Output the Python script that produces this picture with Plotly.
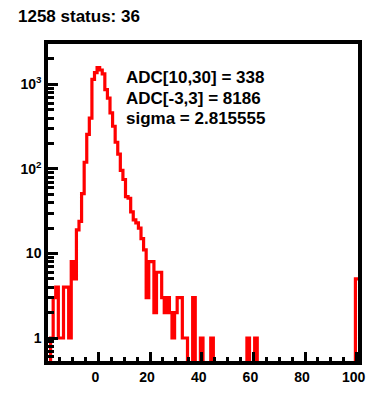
import numpy as np
import plotly.graph_objects as go

# ---- data ----
bin_centers = list(range(-19, 101))  # ADC bins, width 1
counts = [
    0, 1, 3, 4, 1, 1, 4, 4, 1, 8,            # -19 .. -10
    5, 19, 24, 51, 120, 257, 400, 1150, 1380,  # -9 .. -1
    1580, 1480, 1330, 866, 690, 460, 320, 207, 150, 96,  # 0 .. 9
    75, 47, 45, 31, 25, 23, 20, 15, 11, 3,   # 10 .. 19
    8, 8, 2, 6, 6, 3, 2, 3, 2, 1,            # 20 .. 29
    2, 3, 3, 1, 1, 0, 0, 3, 0, 0,            # 30 .. 39
    1, 0, 0, 0, 1, 0, 0, 0, 0, 0,            # 40 .. 49
    0, 0, 0, 0, 0, 0, 0, 0, 1, 0,            # 50 .. 59
    0, 1, 0, 0, 0, 0, 0, 0, 0, 0,            # 60 .. 69
    0, 0, 0, 0, 0, 0, 0, 0, 0, 0,            # 70 .. 79
    0, 0, 0, 0, 0, 0, 0, 0, 0, 0,            # 80 .. 89
    0, 0, 0, 0, 0, 0, 0, 0, 0, 0,            # 90 .. 99
    5,                                       # 100
]
x_ticks = [0, 20, 40, 60, 80, 100]
y_ticks = [1, 10, 100, 1000]
y_ticktext = ["1", "10", "10<sup>2</sup>", "10<sup>3</sup>"]
title_text = "1258 status: 36"
stats_lines = ["ADC[10,30] = 338", "ADC[-3,3] = 8186", "sigma = 2.815555"]

# ---- geometry (page pixels; the page body has an 8px margin) ----
OFF = 8
W, H = 386 - OFF, 397 - OFF
L, R, T, B = 41 - OFF, 358.5 - OFF, 43.5 - OFF, 365 - OFF
PW, PH = R - L, B - T

def xp(px):
    return (px - OFF - L) / PW

def yp(py):
    return 1 - (py - OFF - T) / PH

c = np.array(bin_centers, dtype=float)
v = np.array(counts, dtype=float)
edges = np.append(c - 0.5, c[-1] + 0.5)
ystep = np.append(v, v[-1])
ystep = np.where(ystep > 0, ystep, 0.05)  # empty bins drop below the axis

fig = go.Figure(go.Scatter(
    x=edges, y=ystep, mode="lines",
    line=dict(color="#ff0000", width=3.2, shape="hv"),
    hoverinfo="skip",
))

font_fam = "Liberation Sans, Arial, sans-serif"
x_minor = [t for t in range(-15, 101, 5) if t % 20 != 0]
y_minor = [k * 10.0 ** d for d in range(-1, 4) for k in range(2, 10)
           if 0.5 < k * 10.0 ** d < 3100]

fig.update_layout(
    width=W, height=H,
    margin=dict(l=L, r=W - R, t=T, b=H - B, pad=0),
    paper_bgcolor="white", plot_bgcolor="white",
    showlegend=False,
    xaxis=dict(
        range=[-19.5, 100.5], showgrid=False, zeroline=False,
        showline=True, mirror=True, linecolor="black", linewidth=3.5,
        ticks="inside", ticklen=9, tickwidth=2.5, tickcolor="black",
        tickmode="array", tickvals=x_ticks,
        tickfont=dict(family=font_fam, size=14, color="black", weight="bold"),
        ticklabelshift=-3,
        minor=dict(ticks="inside", ticklen=4.5, tickwidth=2.5,
                   tickcolor="black", tickmode="array", tickvals=x_minor),
    ),
    yaxis=dict(
        type="log", range=[-0.272, 3.478], showgrid=False, zeroline=False,
        showline=True, mirror=True, linecolor="black", linewidth=3.5,
        ticks="inside", ticklen=10, tickwidth=2.5, tickcolor="black",
        tickmode="array", tickvals=y_ticks, ticktext=y_ticktext,
        tickfont=dict(family=font_fam, size=14, color="black", weight="bold"),
        minor=dict(ticks="inside", ticklen=6, tickwidth=2.5,
                   tickcolor="black", tickmode="array", tickvals=y_minor),
    ),
)

fig.add_annotation(
    text=title_text, xref="paper", yref="paper",
    x=xp(8), y=yp(16), xanchor="left", yanchor="middle",
    showarrow=False,
    font=dict(family=font_fam, size=17, color="black", weight="bold"),
)
for line, py in zip(stats_lines, [77.5, 99, 119.5]):
    fig.add_annotation(
        text=line, xref="paper", yref="paper",
        x=xp(119), y=yp(py), xanchor="left", yanchor="middle",
        showarrow=False,
        font=dict(family=font_fam, size=17, color="black", weight="bold"),
    )

fig.write_html("out.html")
